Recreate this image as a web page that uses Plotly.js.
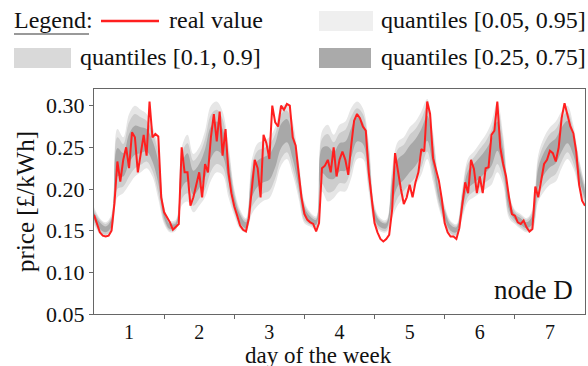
<!DOCTYPE html>
<html><head><meta charset="utf-8">
<script src="https://cdn.plot.ly/plotly-3.0.1.min.js"></script>
<style>html,body{margin:0;padding:0;background:#fff}#chart{width:588px;height:366px}</style>
</head><body><div id="chart"></div>
<script>
// hourly real price (h = 0 .. 168)
const realValue = [
.169,.158,.148,.144,.143,.144,.150,.183,.233,.209,.235,.250,
.225,.268,.262,.220,.245,.265,.240,.305,.262,.266,.263,.190,
.172,.165,.160,.151,.154,.158,.250,.220,.220,.180,.190,.205,
.220,.190,.230,.220,.262,.290,.257,.293,.240,.272,.220,.195,
.179,.168,.156,.151,.149,.165,.205,.235,.225,.190,.265,.255,
.236,.300,.280,.275,.300,.295,.302,.300,.262,.252,.220,.190,
.170,.163,.160,.158,.149,.159,.225,.228,.235,.220,.250,.215,
.235,.245,.235,.217,.252,.282,.290,.285,.275,.270,.220,.190,
.159,.148,.140,.137,.140,.145,.175,.243,.220,.200,.182,.190,
.205,.190,.208,.220,.248,.245,.305,.290,.237,.225,.210,.188,
.159,.148,.143,.143,.140,.153,.180,.208,.195,.235,.224,.195,
.215,.195,.225,.226,.265,.270,.305,.250,.230,.215,.190,.170,
.168,.160,.158,.162,.154,.149,.152,.203,.190,.210,.230,.235,
.246,.243,.233,.250,.285,.303,.290,.275,.267,.245,.205,.186,
.180];

// quantiles every 2 hours (h = 0, 2, ..., 168)
const q05 = [
.157,.146,.143,.148,.190,.195,.205,.215,.220,.225,.215,.188,
.158,.148,.150,.180,.185,.172,.180,.190,.210,.220,.217,.190,
.168,.152,.148,.170,.180,.186,.189,.205,.228,.236,.217,.189,
.159,.155,.152,.197,.185,.189,.197,.197,.213,.236,.236,.197,
.157,.149,.148,.165,.181,.189,.197,.205,.217,.236,.209,.177,
.157,.145,.143,.165,.185,.190,.195,.200,.205,.220,.205,.165,
.158,.152,.148,.150,.185,.197,.205,.209,.225,.236,.225,.200,
.181];
const q95 = [
.178,.165,.160,.170,.272,.262,.290,.300,.295,.290,.275,.250,
.180,.162,.163,.250,.265,.242,.250,.270,.300,.305,.293,.254,
.200,.175,.165,.235,.255,.258,.262,.274,.298,.302,.281,.236,
.185,.172,.167,.269,.277,.265,.277,.281,.297,.305,.297,.257,
.180,.165,.163,.225,.257,.262,.274,.281,.293,.308,.269,.209,
.180,.162,.158,.200,.237,.245,.255,.265,.280,.305,.265,.197,
.175,.170,.165,.175,.241,.262,.274,.281,.293,.300,.277,.236,
.205];
const q10 = [
.160,.148,.145,.151,.200,.203,.215,.225,.229,.233,.222,.195,
.161,.150,.152,.188,.195,.180,.188,.200,.221,.230,.226,.198,
.172,.155,.150,.178,.189,.195,.198,.213,.236,.244,.225,.195,
.162,.157,.154,.206,.196,.198,.207,.207,.223,.244,.243,.204,
.160,.151,.150,.172,.190,.198,.206,.214,.226,.245,.216,.181,
.160,.147,.145,.169,.191,.197,.202,.208,.214,.230,.212,.169,
.160,.154,.150,.153,.192,.205,.213,.218,.233,.244,.231,.204,
.184];
const q90 = [
.175,.163,.158,.167,.262,.254,.280,.290,.286,.282,.268,.243,
.177,.160,.161,.242,.255,.234,.242,.260,.289,.295,.284,.246,
.196,.172,.163,.227,.246,.249,.253,.266,.290,.294,.273,.230,
.182,.170,.165,.260,.266,.256,.267,.271,.287,.297,.290,.250,
.177,.163,.161,.218,.248,.253,.265,.272,.284,.299,.262,.205,
.177,.160,.156,.196,.231,.238,.248,.257,.271,.295,.258,.193,
.173,.168,.163,.172,.234,.254,.266,.272,.285,.292,.271,.232,
.202];
const q25 = [
.163,.152,.148,.155,.215,.215,.231,.241,.243,.245,.233,.207,
.165,.152,.154,.201,.209,.193,.201,.214,.237,.246,.240,.209,
.178,.159,.153,.190,.203,.208,.211,.226,.249,.256,.236,.203,
.167,.160,.157,.219,.213,.212,.221,.222,.238,.257,.254,.215,
.164,.154,.153,.183,.204,.211,.220,.228,.240,.258,.227,.187,
.164,.150,.148,.176,.201,.207,.213,.220,.228,.246,.223,.175,
.163,.157,.153,.158,.202,.217,.226,.231,.245,.255,.241,.211,
.188];
const q75 = [
.172,.160,.155,.164,.249,.243,.266,.276,.274,.272,.258,.233,
.174,.158,.159,.230,.243,.222,.230,.248,.275,.281,.272,.236,
.191,.169,.160,.217,.234,.238,.242,.255,.278,.284,.263,.223,
.178,.167,.163,.249,.251,.244,.255,.257,.273,.286,.280,.240,
.174,.161,.159,.208,.236,.242,.252,.260,.272,.288,.252,.200,
.174,.157,.154,.190,.222,.230,.238,.247,.259,.281,.248,.188,
.170,.165,.160,.168,.225,.244,.255,.261,.274,.282,.262,.226,
.198];

const dayLabels = ['1','2','3','4','5','6','7'];
const dayCentres = [12,36,60,84,108,132,156];
const dayBounds = [24,48,72,96,120,144];
const yTicks = [0.05,0.10,0.15,0.20,0.25,0.30];

const C_OUT = '#e6e6e6', C_MID = '#cdcdcd', C_IN = '#a8a8a8', RED = '#ff1f1f';

function band(upper, lower, color) {
  return [
    {x0:0, dx:2, y:upper, type:'scatter', mode:'lines', line:{width:0, shape:'spline'}, hoverinfo:'skip'},
    {x0:0, dx:2, y:lower, type:'scatter', mode:'lines', line:{width:0, shape:'spline'}, fill:'tonexty', fillcolor:color, hoverinfo:'skip'}
  ];
}
const data = [].concat(
  band(q95, q05, C_OUT),
  band(q90, q10, C_MID),
  band(q75, q25, C_IN),
  [{x0:0, dx:1, y:realValue, type:'scatter', mode:'lines', line:{color:RED, width:2}}]
);

// pixel helpers for legend decorations (plot area: x 94..585, y 89..314)
const L = 94, R = 585, T = 89, B = 314;
const px = v => (v - L) / (R - L);
const py = v => (B - v) / (B - T);
const FONT = '"Liberation Serif", "Times New Roman", serif';

const shapes = [
  {type:'line', xref:'paper', yref:'paper', x0:px(14), x1:px(89), y0:py(34), y1:py(34), line:{color:'#777', width:1.5}},
  {type:'line', xref:'paper', yref:'paper', x0:px(101), x1:px(159), y0:py(21), y1:py(21), line:{color:RED, width:2.5}},
  {type:'rect', xref:'paper', yref:'paper', x0:px(319), x1:px(373), y0:py(31), y1:py(11), fillcolor:'#efefef', line:{width:0}},
  {type:'rect', xref:'paper', yref:'paper', x0:px(14), x1:px(71), y0:py(68), y1:py(48), fillcolor:'#d9d9d9', line:{width:0}},
  {type:'rect', xref:'paper', yref:'paper', x0:px(319), x1:px(371), y0:py(68), y1:py(48), fillcolor:'#aaaaaa', line:{width:0}}
];
function leg(text, xpx, ypx) {
  return {text:text, xref:'paper', yref:'paper', x:px(xpx), y:py(ypx), xanchor:'left', yanchor:'middle', showarrow:false, font:{family:FONT, size:24, color:'#111'}};
}
const annotations = [
  leg('Legend:', 12, 20),
  leg('real value', 167, 20),
  leg('quantiles [0.05, 0.95]', 379, 20),
  leg('quantiles [0.1, 0.9]', 78, 57),
  leg('quantiles [0.25, 0.75]', 379, 57),
  {text:'node D', xref:'paper', yref:'paper', x:px(575), y:py(290), xanchor:'right', yanchor:'middle', showarrow:false, font:{family:FONT, size:27, color:'#111'}},
  // x-axis title
  {text:'day of the week', xref:'paper', yref:'paper', x:px(318), y:py(355), xanchor:'center', yanchor:'middle', showarrow:false, font:{family:FONT, size:23, color:'#111'}}
];

const layout = {
  width:588, height:366,
  margin:{l:94, r:3, t:89, b:52},
  paper_bgcolor:'#fff', plot_bgcolor:'#fff',
  showlegend:false,
  font:{family:FONT, size:22, color:'#111'},
  xaxis:{range:[0,168], tickmode:'array', tickvals:dayCentres, ticktext:dayLabels, ticks:'',
    showgrid:false, zeroline:false, showline:true, linecolor:'#666', linewidth:1, mirror:true,
    tickfont:{family:FONT, size:20, color:'#111'}, ticklabelstandoff:0,
    minor:{tickmode:'array', tickvals:dayBounds, ticks:'outside', ticklen:4, tickcolor:'#666', showgrid:false}},
  yaxis:{range:[0.05,0.32], tickmode:'array', tickvals:yTicks, tickformat:'.2f', ticks:'outside', ticklen:4, tickcolor:'#666',
    showgrid:false, zeroline:false, showline:true, linecolor:'#666', linewidth:1, mirror:true,
    tickfont:{family:FONT, size:22, color:'#111'},
    title:{text:'price [£/kWh]', font:{family:FONT, size:25, color:'#111'}, standoff:4}},
  shapes:shapes,
  annotations:annotations
};
Plotly.newPlot('chart', data, layout, {staticPlot:true, displayModeBar:false});
</script>
</body></html>
